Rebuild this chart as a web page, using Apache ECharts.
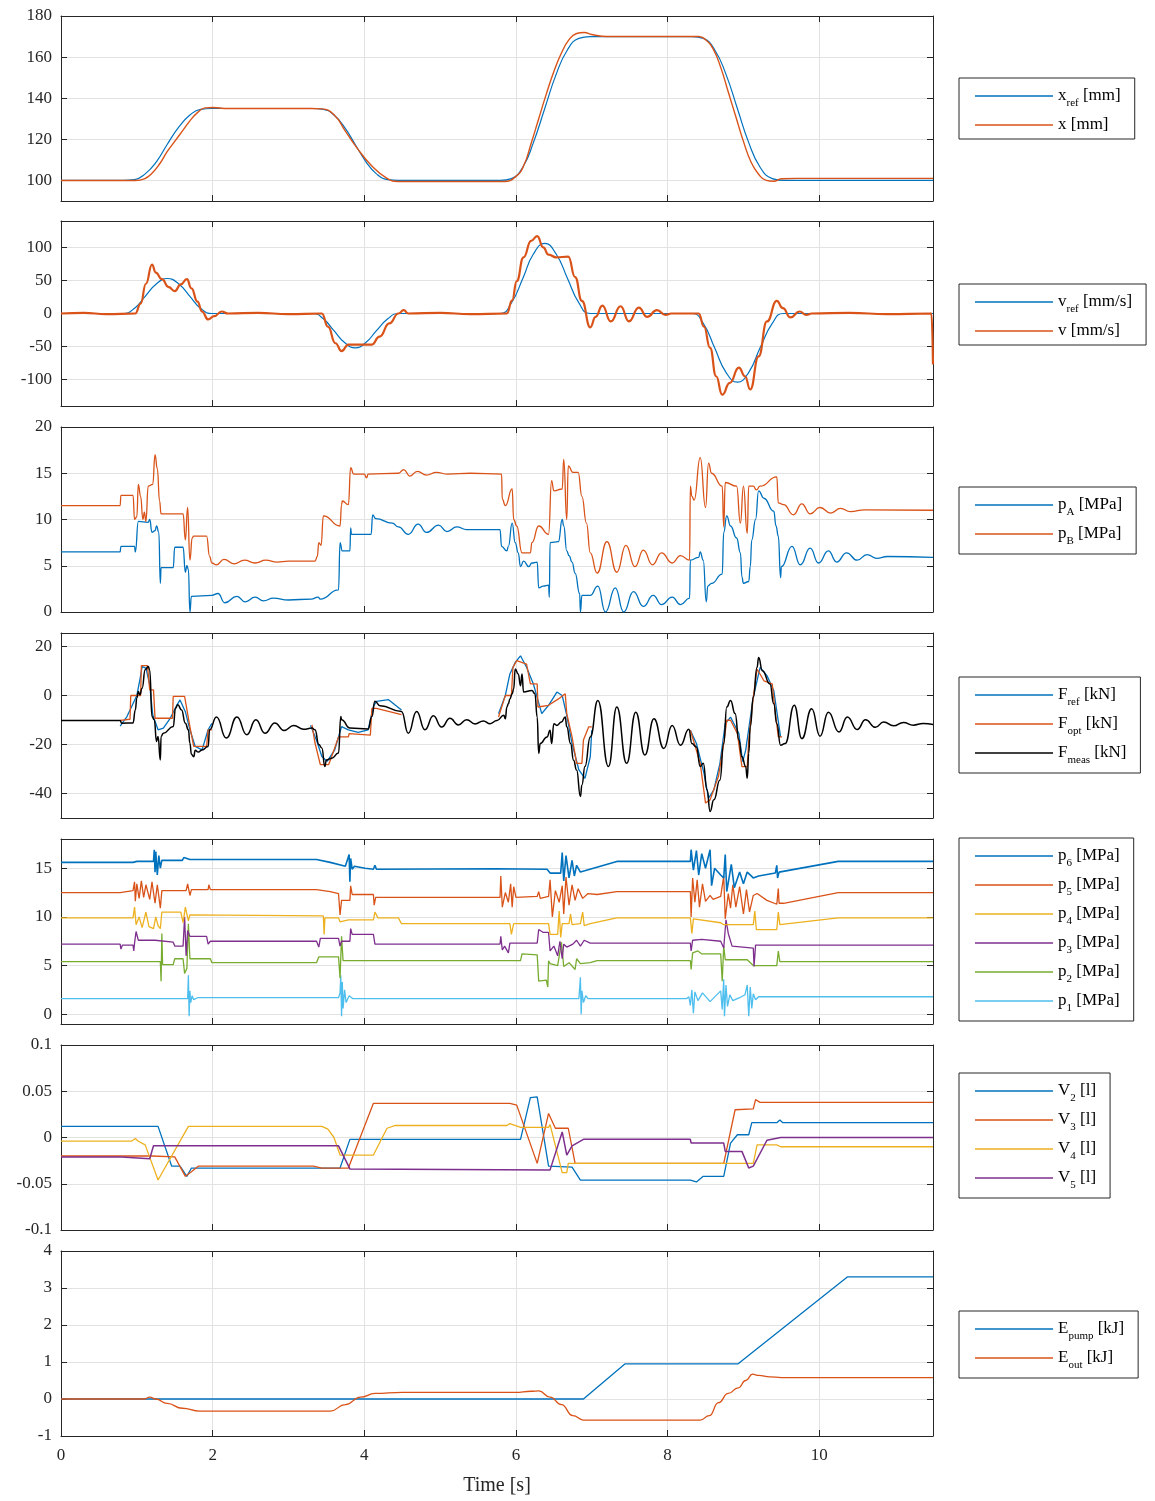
<!DOCTYPE html>
<html>
<head>
<meta charset="utf-8">
<script src="https://cdn.jsdelivr.net/npm/echarts@6/dist/echarts.min.js"></script>
<style>
html,body{margin:0;padding:0;background:#fff}
#chart{width:1155px;height:1501px}
</style>
</head>
<body>
<div id="chart"></div>
<script>
// ---------- data: [time s, value] ----------
const TIME_TICKS = [0, 2, 4, 6, 8, 10];

// position [mm]
const xRef = [[0,100],[0.82,100],[0.97,100.4],[1.11,103.2],[1.26,109.2],[1.40,117.5],[1.55,125.8],[1.70,131.8],[1.84,134.6],[1.99,135],[3.32,135],[3.46,134.6],[3.60,131.8],[3.74,125.8],[3.88,117.5],[4.02,109.2],[4.16,103.2],[4.31,100.4],[4.45,100],[5.79,100],[5.94,100.9],[6.09,106.4],[6.23,118.4],[6.38,135],[6.53,151.6],[6.68,163.6],[6.83,169.1],[6.98,170],[8.32,170],[8.47,169.1],[8.62,163.6],[8.77,151.6],[8.92,135],[9.07,118.4],[9.22,106.4],[9.38,100.9],[9.53,100],[11.5,100]];
const xMeas = [[0,100],[0.98,100],[1.1,100.8],[1.2,103.5],[1.3,108],[1.4,114],[1.5,119],[1.6,124],[1.7,129],[1.8,133],[1.9,135.3],[2.0,135.5],[2.2,135],[3.3,135],[3.44,134.8],[3.6,132],[3.75,124],[3.9,116],[4.1,107],[4.3,101],[4.45,99.5],[5.85,99.5],[6.0,102],[6.1,107],[6.2,118],[6.3,130],[6.4,142],[6.5,153],[6.6,162],[6.7,168.5],[6.8,171.5],[6.9,172],[7.0,171],[7.2,170],[8.41,170],[8.5,168.5],[8.6,164],[8.7,155],[8.8,143],[8.9,131],[9.0,119],[9.1,109],[9.2,103],[9.3,100],[9.4,99.6],[9.5,100.8],[9.7,101],[11.5,101]];

// velocity [mm/s]
const vRef = [[0,0],[0.82,0],[0.97,8],[1.11,26],[1.26,45],[1.40,53],[1.55,45],[1.70,26],[1.84,8],[1.99,0],[3.32,0],[3.46,-8],[3.60,-26],[3.74,-44],[3.88,-52],[4.02,-44],[4.16,-26],[4.31,-8],[4.45,0],[5.79,0],[5.94,16],[6.09,53],[6.23,90],[6.38,106],[6.53,90],[6.68,53],[6.83,16],[6.98,0],[8.32,0],[8.47,-15],[8.62,-52],[8.77,-89],[8.92,-104],[9.07,-89],[9.22,-52],[9.38,-15],[9.53,0],[11.5,0]];
const vMeas = [[0,0],[0.3,1],[0.6,-1],[0.98,0],[1.05,15],[1.12,45],[1.20,74],[1.25,62],[1.33,52],[1.42,40],[1.50,34],[1.58,44],[1.66,52],[1.72,38],[1.80,18],[1.86,3],[1.94,-9],[2.02,-4],[2.12,3],[2.2,0],[2.6,1],[3.0,-1],[3.44,0],[3.52,-20],[3.62,-45],[3.70,-57],[3.79,-47],[4.10,-47],[4.20,-35],[4.33,-15],[4.45,0],[4.52,5],[4.58,0],[5.0,1],[5.4,-1],[5.88,0],[5.95,20],[6.01,49],[6.10,85],[6.20,110],[6.28,117],[6.36,100],[6.43,89],[6.53,85],[6.69,86],[6.78,55],[6.87,19],[6.98,-21],[7.05,-5],[7.14,12],[7.25,-12],[7.38,11],[7.49,-12],[7.62,9],[7.73,-5],[7.86,5],[7.97,-2],[8.05,0],[8.41,0],[8.48,-20],[8.56,-52],[8.64,-95],[8.72,-123],[8.82,-105],[8.94,-82],[9.02,-95],[9.09,-115],[9.2,-65],[9.31,-12],[9.44,19],[9.52,8],[9.62,-6],[9.74,3],[9.83,-2],[9.9,0],[10.4,1],[10.9,-1],[11.48,0],[11.5,-77]];

// chamber pressures [MPa]
const pA = [[0,6.5],[0.78,6.5],[0.79,7.1],[0.97,7.1],[0.98,6.5],[1.02,9.8],[1.15,9.7],[1.17,10.0],[1.20,8.6],[1.24,8.8],[1.26,9.3],[1.29,8.6],[1.31,3.1],[1.32,4.8],[1.48,4.8],[1.50,7.0],[1.61,7.0],[1.64,4.3],[1.66,5.0],[1.68,4.6],[1.70,0.0],[1.72,1.7],[1.99,1.8],[2.07,2.0],[2.16,1.0],[2.32,1.7],[2.43,1.1],[2.56,1.6],[2.67,1.2],[2.8,1.5],[3.0,1.3],[3.3,1.4],[3.39,1.6],[3.42,1.4],[3.66,2.4],[3.68,7.5],[3.71,6.6],[3.81,6.6],[3.82,9.1],[3.83,8.4],[4.09,8.4],[4.11,10.5],[4.15,10.1],[4.37,9.6],[4.45,9.2],[4.58,8.4],[4.71,9.5],[4.82,8.6],[4.98,9.4],[5.09,8.7],[5.22,9.2],[5.35,8.9],[5.79,8.9],[5.81,7.1],[5.88,6.6],[5.90,7.1],[5.95,9.6],[5.99,7.5],[6.03,6.4],[6.06,4.9],[6.10,5.5],[6.17,4.9],[6.21,5.3],[6.28,5.4],[6.30,2.6],[6.36,2.8],[6.43,2.9],[6.44,1.6],[6.45,7.5],[6.56,7.6],[6.61,10.0],[6.63,9.3],[6.67,6.6],[6.70,6.1],[6.74,5.4],[6.78,4.2],[6.84,2.0],[6.85,0.0],[6.87,1.8],[6.98,1.8],[7.08,2.8],[7.18,0.0],[7.31,2.6],[7.42,0.0],[7.55,2.2],[7.68,0.6],[7.81,1.8],[7.92,0.8],[8.06,1.6],[8.17,0.8],[8.29,1.5],[8.30,5.6],[8.41,5.9],[8.43,6.5],[8.47,5.6],[8.51,1.1],[8.53,2.8],[8.58,3.1],[8.72,4.1],[8.74,8.6],[8.78,10.4],[8.83,9.3],[8.91,8.0],[8.96,6.4],[8.98,3.8],[9.00,3.1],[9.07,3.3],[9.09,4.9],[9.11,7.8],[9.16,10.0],[9.20,13.1],[9.27,12.3],[9.40,10.9],[9.43,9.3],[9.46,8.2],[9.49,3.7],[9.50,4.9],[9.64,7.1],[9.75,5.1],[9.88,6.9],[9.99,5.3],[10.12,6.6],[10.23,5.4],[10.36,6.4],[10.50,5.6],[10.63,6.2],[10.76,5.8],[10.9,6.0],[11.5,5.9]];
const pB = [[0,11.5],[0.78,11.5],[0.79,12.6],[0.95,12.6],[0.97,10.0],[1.00,10.3],[1.02,13.8],[1.05,12.5],[1.08,10.0],[1.10,10.8],[1.12,9.8],[1.15,13.6],[1.21,13.8],[1.24,17.0],[1.27,15.5],[1.30,12.0],[1.32,10.6],[1.61,10.6],[1.64,7.8],[1.67,11.3],[1.70,5.6],[1.73,8.0],[1.75,8.2],[1.92,8.2],[1.96,6.0],[1.99,5.3],[2.05,5.1],[2.15,5.7],[2.28,5.2],[2.42,5.6],[2.56,5.3],[2.70,5.6],[2.85,5.4],[3.0,5.5],[3.35,5.5],[3.38,6.0],[3.40,7.5],[3.43,7.2],[3.46,10.4],[3.68,9.3],[3.70,11.6],[3.71,12.0],[3.79,11.6],[3.82,15.6],[3.86,14.9],[4.0,14.9],[4.03,14.5],[4.05,14.9],[4.45,15.0],[4.52,15.4],[4.60,14.7],[4.70,15.2],[4.82,14.8],[4.95,15.1],[5.1,14.9],[5.4,15.0],[5.81,14.9],[5.82,12.2],[5.86,11.5],[5.95,13.3],[5.97,10.0],[6.01,9.3],[6.08,6.4],[6.19,6.4],[6.21,7.5],[6.30,9.3],[6.43,8.4],[6.47,14.2],[6.50,13.1],[6.61,13.3],[6.63,16.5],[6.67,10.0],[6.69,15.8],[6.75,15.1],[6.82,15.1],[6.87,12.5],[6.93,9.6],[6.98,6.4],[7.07,4.2],[7.20,7.6],[7.33,4.3],[7.45,7.2],[7.57,4.9],[7.68,6.7],[7.80,5.1],[7.92,6.4],[8.06,5.3],[8.17,6.1],[8.29,5.6],[8.30,13.6],[8.32,12.5],[8.35,12.1],[8.43,16.7],[8.50,11.3],[8.54,16.1],[8.58,15.0],[8.72,13.6],[8.74,9.2],[8.76,14.0],[8.91,13.6],[8.96,9.6],[9.00,13.6],[9.05,8.5],[9.07,13.6],[9.13,13.6],[9.17,13.2],[9.22,13.6],[9.44,14.6],[9.46,11.8],[9.53,11.6],[9.66,10.5],[9.77,11.7],[9.88,10.6],[10.01,11.3],[10.15,10.7],[10.28,11.2],[10.41,10.85],[10.6,11.05],[11.5,11.0]];

// force [kN]; '-' separates active intervals
const fRef = [[0.78,-12.5],[0.87,-8.6],[1.00,0],[1.04,6.4],[1.07,11.8],[1.12,11.2],[1.17,4.4],[1.21,-7.9],[1.28,-14.0],[1.35,-13.3],[1.44,-9.3],[1.53,-3.8],[1.57,-1.8],[1.64,-6.6],[1.70,-14.0],[1.77,-20.8],[1.86,-22.2],[1.94,-14.0],[1.99,-11.4],[2.0,'-'],
  [3.29,-12.2],[3.37,-18.3],[3.44,-24.9],[3.51,-26.9],[3.61,-22.2],[3.70,-12.7],[3.79,-14.0],[3.92,-15.1],[4.05,-14.0],[4.12,-4.5],[4.16,-2.4],[4.32,-1.7],[4.49,-5.9],[4.5,'-'],
  [5.77,-7.4],[5.86,0],[5.92,8.8],[5.99,13.5],[6.06,16.2],[6.14,11.5],[6.23,4.7],[6.34,-7.4],[6.43,-4.0],[6.54,1.4],[6.61,0],[6.67,-8.1],[6.74,-19.6],[6.83,-30.4],[6.91,-33.8],[6.98,-25.0],[7.00,-14.2],[7.01,'-'],
  [8.30,-14.2],[8.38,-19.6],[8.48,-31.8],[8.54,-41.9],[8.61,-38.5],[8.69,-27.7],[8.76,-11.5],[8.83,-8.8],[8.94,-15.5],[8.99,-27.0],[9.03,-22.3],[9.13,-0.7],[9.22,11.5],[9.31,8.1],[9.40,2.0],[9.49,-16.9]];
const fOpt = [[0.78,-10.2],[0.91,-9.7],[0.92,0],[1.05,0],[1.06,12.2],[1.14,12.2],[1.17,2.3],[1.22,2.3],[1.24,-9.3],[1.47,-9.3],[1.48,-0.4],[1.63,-0.4],[1.70,-12.7],[1.75,-20.8],[1.92,-20.8],[1.94,-14.0],[1.99,-14.0],[2.0,'-'],
  [3.31,-12.0],[3.35,-19.4],[3.42,-28.2],[3.53,-28.2],[3.57,-24.9],[3.66,-16.9],[3.79,-16.9],[3.80,-15.6],[4.08,-16.2],[4.10,-5.3],[4.16,-5.3],[4.49,-7.8],[4.5,'-'],
  [5.77,-8.8],[5.84,-2.0],[5.86,0],[5.94,0],[5.96,11.5],[6.01,14.2],[6.14,12.8],[6.19,4.7],[6.28,4.7],[6.29,-4.7],[6.43,-4.0],[6.56,-1.4],[6.65,0.7],[6.67,-7.4],[6.74,-16.9],[6.80,-27.7],[6.87,-27.7],[6.89,-18.2],[6.96,-12.8],[7.00,-12.8],[7.01,'-'],
  [8.30,-14.2],[8.36,-20.3],[8.43,-27.7],[8.50,-43.9],[8.56,-42.6],[8.67,-33.1],[8.74,-19.6],[8.78,-10.1],[8.83,-10.1],[8.92,-15.5],[8.98,-29.0],[9.05,-29.0],[9.07,-18.2],[9.13,-0.7],[9.18,10.8],[9.27,6.0],[9.38,4.7],[9.42,-6.8],[9.46,-16.9],[9.51,-16.9]];
const fMeas = [[0,-10.2],[0.78,-10.2],[0.80,-11.3],[0.95,-11.2],[0.98,-5.9],[1.00,-1.0],[1.02,1.6],[1.04,0.3],[1.07,3.0],[1.11,10.5],[1.15,11.8],[1.17,10.4],[1.20,-8.6],[1.23,-9.9],[1.26,-18.8],[1.28,-16.7],[1.31,-26.3],[1.32,-16.7],[1.35,-15.4],[1.48,-12.7],[1.51,-5.2],[1.54,-3.8],[1.59,-5.9],[1.64,-11.3],[1.68,-14.0],[1.70,-19.5],[1.72,-24.0],[1.75,-25.0],[1.77,-22.4],[1.81,-23.1],[1.86,-22.2],[1.94,-20.8],[1.96,-14.0],[2.05,-8.8],[2.18,-17.4],[2.32,-8.8],[2.45,-16.0],[2.57,-9.9],[2.69,-15.4],[2.82,-11.2],[2.94,-14.3],[3.07,-12.3],[3.2,-13.8],[3.31,-13.3],[3.35,-14.0],[3.40,-20.0],[3.44,-21.4],[3.48,-29.0],[3.50,-26.3],[3.57,-25.6],[3.66,-23.5],[3.69,-8.6],[3.70,-9.9],[3.81,-13.3],[4.05,-13.7],[4.10,-8.6],[4.14,-2.4],[4.21,-4.2],[4.49,-6.5],[4.58,-15.4],[4.69,-6.5],[4.80,-14.0],[4.91,-8.3],[5.02,-12.9],[5.13,-9.3],[5.24,-12.0],[5.35,-9.9],[5.46,-11.6],[5.57,-10.4],[5.66,-11.5],[5.75,-10.2],[5.84,-8.1],[5.86,-9.5],[5.88,-4.7],[5.90,-3.4],[5.92,-1.4],[5.95,0.7],[5.97,2.7],[5.99,10.8],[6.03,8.8],[6.06,4.0],[6.08,8.8],[6.10,1.4],[6.21,2.0],[6.25,0.7],[6.28,-8.8],[6.30,-23.6],[6.32,-19.6],[6.41,-16.9],[6.45,-14.2],[6.47,-19.6],[6.50,-11.5],[6.54,-12.2],[6.60,-10.8],[6.65,-8.8],[6.67,-12.8],[6.72,-19.6],[6.76,-26.4],[6.80,-30.4],[6.85,-41.2],[6.87,-36.5],[6.91,-29.0],[6.98,-16.9],[7.08,-2.0],[7.22,-29.0],[7.33,-4.7],[7.46,-27.7],[7.58,-6.8],[7.70,-24.3],[7.82,-9.5],[7.95,-21.6],[8.06,-12.2],[8.17,-20.3],[8.28,-13.8],[8.32,-19.6],[8.38,-21.0],[8.43,-29.0],[8.47,-27.7],[8.52,-38.5],[8.56,-47.3],[8.61,-42.6],[8.69,-34.5],[8.74,-19.6],[8.78,-4.7],[8.83,-2.0],[8.89,-7.4],[8.94,-18.2],[8.98,-25.0],[9.03,-29.0],[9.05,-33.8],[9.07,-23.6],[9.09,-12.8],[9.13,-0.7],[9.18,11.5],[9.20,15.5],[9.25,10.1],[9.35,4.7],[9.40,-3.4],[9.44,-11.5],[9.49,-20.3],[9.55,-19.6],[9.67,-4.0],[9.77,-17.6],[9.90,-5.4],[10.01,-16.6],[10.12,-6.8],[10.26,-14.9],[10.37,-8.8],[10.50,-13.9],[10.61,-9.9],[10.74,-13.0],[10.85,-10.8],[10.98,-12.4],[11.11,-11.0],[11.24,-12.1],[11.37,-11.4],[11.5,-11.8]];

// line pressures [MPa]
const p6 = [[0,15.6],[0.95,15.6],[1.0,15.7],[1.22,15.7],[1.23,16.9],[1.24,14.6],[1.25,16.7],[1.27,14.3],[1.29,16.3],[1.31,15.0],[1.33,15.8],[1.60,15.8],[1.62,16.1],[1.70,15.9],[3.37,15.9],[3.55,15.6],[3.75,15.2],[3.80,16.4],[3.81,13.6],[3.82,16.0],[3.84,14.9],[3.87,15.2],[4.01,15.0],[4.12,14.9],[4.14,15.3],[4.16,14.9],[5.73,14.95],[6.41,14.9],[6.45,14.5],[6.59,14.5],[6.61,16.6],[6.63,13.7],[6.66,16.3],[6.70,14.0],[6.74,15.8],[6.77,14.2],[6.80,15.3],[6.85,14.6],[7.33,15.7],[8.30,15.7],[8.31,16.9],[8.34,14.8],[8.38,16.8],[8.41,14.3],[8.45,16.5],[8.50,15.0],[8.56,16.9],[8.58,13.2],[8.62,15.0],[8.70,14.3],[8.74,14.0],[8.76,16.4],[8.78,12.6],[8.84,15.4],[8.88,13.0],[8.95,14.6],[9.00,13.4],[9.05,14.6],[9.13,14.0],[9.20,14.2],[9.42,14.5],[9.44,15.3],[9.45,14.0],[9.47,14.6],[10.25,15.7],[11.5,15.7]];
const p5 = [[0,12.5],[0.78,12.5],[0.79,12.7],[0.95,12.7],[0.97,13.6],[0.98,11.6],[1.00,13.4],[1.03,11.9],[1.06,13.7],[1.09,12.0],[1.12,13.3],[1.17,11.8],[1.20,13.6],[1.24,11.4],[1.27,13.3],[1.31,10.9],[1.33,12.7],[1.65,12.7],[1.67,13.4],[1.70,12.2],[1.72,12.8],[1.94,12.8],[1.95,13.3],[1.97,12.8],[3.37,12.8],[3.55,12.6],[3.66,12.4],[3.68,10.2],[3.70,11.7],[3.81,11.7],[3.82,13.2],[3.84,12.3],[4.12,12.3],[4.13,11.2],[4.15,12.0],[5.79,12.0],[5.80,14.2],[5.82,11.0],[5.86,12.5],[5.90,11.5],[5.93,13.4],[5.95,11.0],[5.97,13.1],[6.00,12.0],[6.28,12.1],[6.30,12.6],[6.32,11.9],[6.43,12.1],[6.45,13.8],[6.48,10.0],[6.52,12.7],[6.57,11.5],[6.61,13.2],[6.63,10.3],[6.66,14.1],[6.70,11.2],[6.74,13.3],[6.78,11.7],[6.82,12.9],[6.88,11.9],[6.95,12.4],[7.07,12.3],[7.33,12.6],[8.30,12.6],[8.31,10.0],[8.33,14.0],[8.36,11.5],[8.39,13.8],[8.42,11.0],[8.46,13.4],[8.50,11.6],[8.56,12.2],[8.60,11.8],[8.70,12.1],[8.74,14.2],[8.76,9.8],[8.80,12.4],[8.83,10.9],[8.86,13.3],[8.90,11.0],[8.95,13.1],[9.00,10.3],[9.04,12.8],[9.08,10.5],[9.13,12.2],[9.18,12.4],[9.31,11.7],[9.44,11.3],[9.46,12.9],[9.47,11.4],[9.53,11.4],[10.25,12.5],[11.5,12.5]];
const p4 = [[0,9.9],[0.95,9.9],[0.97,11.0],[0.99,9.2],[1.03,10.0],[1.07,8.9],[1.12,10.5],[1.16,9.0],[1.22,8.8],[1.25,10.0],[1.28,9.1],[1.31,8.8],[1.33,10.5],[1.58,10.5],[1.61,9.4],[1.64,11.0],[1.68,9.6],[1.70,10.2],[1.72,10.1],[3.46,10.1],[3.47,8.2],[3.48,9.9],[3.66,9.9],[3.68,9.5],[3.79,9.7],[4.12,9.7],[4.14,10.5],[4.18,9.9],[4.45,9.9],[4.49,9.3],[5.92,9.3],[5.94,8.2],[5.97,9.3],[6.43,9.3],[6.45,8.2],[6.55,8.2],[6.57,10.6],[6.59,7.9],[6.61,9.3],[6.70,9.3],[6.72,10.3],[6.74,9.2],[6.85,9.3],[6.88,10.5],[6.90,9.1],[6.98,9.3],[7.33,9.9],[8.30,9.9],[8.32,8.3],[8.34,9.8],[8.70,9.4],[8.74,9.2],[9.13,9.2],[9.15,10.6],[9.17,8.7],[9.44,8.7],[9.46,10.5],[9.48,9.2],[10.25,9.9],[11.5,9.9]];
const p3 = [[0,7.2],[0.78,7.2],[0.79,6.7],[0.81,7.1],[0.95,7.1],[0.96,6.5],[0.97,7.3],[0.99,8.5],[1.02,7.6],[1.24,7.6],[1.26,7.4],[1.48,7.4],[1.50,7.0],[1.61,7.0],[1.63,10.0],[1.65,6.0],[1.67,8.6],[1.70,8.0],[1.92,8.0],[1.94,7.2],[1.97,7.5],[3.37,7.5],[3.40,6.9],[3.42,7.8],[3.66,7.8],[3.68,7.0],[3.70,7.5],[3.81,7.5],[3.82,8.8],[3.84,8.2],[4.12,8.2],[4.14,7.2],[5.79,7.2],[5.80,8.0],[5.82,6.6],[5.85,7.0],[5.90,6.3],[5.92,7.3],[6.28,7.3],[6.30,8.7],[6.36,8.4],[6.43,8.4],[6.45,6.5],[6.50,7.0],[6.55,6.0],[6.58,7.5],[6.61,5.7],[6.63,7.2],[6.67,6.9],[6.75,7.2],[6.80,7.6],[6.85,7.0],[6.90,7.6],[6.98,7.3],[8.30,7.3],[8.31,6.5],[8.33,7.6],[8.45,7.7],[8.70,7.5],[8.74,6.8],[8.76,6.8],[8.77,9.7],[8.80,8.3],[8.85,7.0],[9.13,6.8],[9.14,4.9],[9.16,7.1],[11.5,7.1]];
const p2 = [[0,5.4],[1.31,5.4],[1.32,3.4],[1.33,8.3],[1.34,5.1],[1.48,5.1],[1.50,5.7],[1.61,5.7],[1.63,4.2],[1.66,4.7],[1.68,9.3],[1.70,5.7],[1.97,5.7],[1.99,5.3],[3.37,5.3],[3.40,5.9],[3.66,5.9],[3.68,3.7],[3.70,8.0],[3.72,5.5],[6.06,5.5],[6.08,6.2],[6.28,6.1],[6.30,3.4],[6.40,3.5],[6.42,2.8],[6.43,5.5],[6.45,5.2],[6.55,5.0],[6.60,7.4],[6.63,4.9],[6.70,5.3],[6.78,4.6],[6.80,5.7],[6.85,5.2],[6.98,5.3],[7.07,5.5],[8.30,5.5],[8.31,4.6],[8.33,6.3],[8.40,6.5],[8.45,6.2],[8.70,6.2],[8.72,3.4],[8.74,7.0],[8.76,5.6],[9.05,5.6],[9.13,5.0],[9.15,4.8],[9.44,5.0],[9.46,6.5],[9.48,5.4],[11.5,5.4]];
const p1 = [[0,1.6],[1.67,1.6],[1.68,4.0],[1.69,-0.2],[1.70,2.4],[1.71,1.2],[1.73,1.9],[1.75,1.5],[1.80,1.7],[3.66,1.7],[3.68,2.2],[3.69,4.0],[3.70,-0.2],[3.71,3.3],[3.72,0.6],[3.74,2.5],[3.76,1.2],[3.80,1.9],[3.85,1.6],[6.83,1.6],[6.85,3.8],[6.86,0.0],[6.87,2.4],[6.89,1.2],[6.92,1.9],[6.95,1.6],[8.25,1.6],[8.28,1.8],[8.30,0.9],[8.32,2.5],[8.34,0.1],[8.36,2.3],[8.40,1.4],[8.46,2.2],[8.56,1.3],[8.70,2.4],[8.72,0.5],[8.74,3.6],[8.75,-0.2],[8.77,3.0],[8.79,0.8],[8.82,2.0],[8.86,1.4],[8.95,1.7],[9.02,2.0],[9.05,3.0],[9.07,-0.2],[9.09,2.8],[9.11,0.6],[9.13,2.1],[9.16,1.5],[9.20,1.8],[11.5,1.8]];

// chamber volumes [l]
const V2 = [[0,0.012],[1.28,0.012],[1.46,-0.031],[1.57,-0.031],[1.66,-0.042],[1.72,-0.033],[1.86,-0.033],[3.68,-0.033],[3.81,-0.002],[6.06,-0.002],[6.19,0.043],[6.28,0.044],[6.43,-0.031],[6.74,-0.032],[6.85,-0.046],[8.30,-0.046],[8.38,-0.048],[8.47,-0.042],[8.74,-0.042],[8.83,-0.006],[8.92,0.003],[9.07,0.003],[9.11,0.016],[9.44,0.016],[9.48,0.019],[9.52,0.016],[11.5,0.016]];
const V3 = [[0,-0.020],[1.20,-0.020],[1.50,-0.021],[1.64,-0.042],[1.72,-0.037],[1.81,-0.031],[3.33,-0.031],[3.44,-0.033],[3.79,-0.033],[4.12,0.037],[5.92,0.037],[6.01,0.035],[6.28,-0.028],[6.43,0.026],[6.52,0.010],[6.69,0.010],[6.78,-0.028],[8.74,-0.028],[8.89,0.030],[9.13,0.031],[9.16,0.041],[9.22,0.038],[11.5,0.038]];
const V4 = [[0,-0.004],[0.93,-0.004],[0.98,-0.001],[1.02,-0.004],[1.11,-0.008],[1.28,-0.046],[1.68,0.012],[3.44,0.012],[3.52,0.009],[3.60,0.0],[3.68,-0.019],[4.12,-0.019],[4.30,0.010],[4.41,0.013],[5.88,0.013],[5.92,0.015],[6.06,0.011],[6.43,0.011],[6.45,0.014],[6.61,-0.038],[6.67,-0.038],[6.69,-0.028],[9.13,-0.028],[9.18,-0.008],[9.44,-0.008],[9.49,-0.010],[11.5,-0.010]];
const V5 = [[0,-0.021],[0.80,-0.021],[0.82,-0.023],[1.17,-0.023],[1.22,-0.009],[3.66,-0.009],[3.81,-0.034],[6.45,-0.035],[6.61,0.006],[6.67,-0.019],[6.74,-0.009],[6.89,-0.002],[8.30,-0.002],[8.31,-0.006],[8.74,-0.006],[8.76,-0.015],[8.98,-0.015],[9.07,-0.033],[9.13,-0.031],[9.31,-0.003],[9.49,0.000],[11.5,0.000]];

// energy [kJ]
const ePump = [[0,0],[6.89,0],[7.44,0.95],[8.93,0.95],[10.37,3.3],[11.5,3.3]];
const eOut = [[0,0],[1.10,0],[1.17,0.05],[1.25,0.0],[1.40,-0.12],[1.60,-0.25],[1.83,-0.33],[3.55,-0.33],[3.75,-0.15],[3.95,0.05],[4.14,0.15],[4.5,0.18],[5.99,0.18],[6.2,0.21],[6.3,0.22],[6.45,0.05],[6.6,-0.15],[6.75,-0.45],[6.89,-0.57],[8.43,-0.57],[8.55,-0.45],[8.67,-0.1],[8.80,0.15],[8.93,0.3],[9.03,0.5],[9.12,0.67],[9.2,0.64],[9.35,0.6],[9.5,0.58],[11.5,0.58]];

// y-axis ranges and tick labels, one entry per panel
const Y_RANGES = [[90,180],[-140,140],[0,20],[-50,25.5],[-1,18],[-0.1,0.1],[-1,4]];
const Y_TICKS = [[100,120,140,160,180],[-100,-50,0,50,100],[0,5,10,15,20],[-40,-20,0,20],[0,5,10,15],[-0.1,-0.05,0,0.05,0.1],[-1,0,1,2,3,4]];

// ---------- styling ----------
const FONT = '"Liberation Serif","Times New Roman",serif';
const AXIS_COLOR = '#262626';
const GRID_COLOR = '#e2e2e2';
const C = {blue:'#0072BD', orange:'#D95319', yellow:'#EDB120', purple:'#7E2F8E', green:'#77AC30', cyan:'#4DBEEE', black:'#000000'};
const PANEL_TOPS = [16, 221, 427, 633, 839, 1045, 1251];
const PANEL_H = 185;
const LEGEND_TOPS = [78, 284, 487, 677, 838, 1073, 1311];
const LEGEND_PAD_BOTTOM = [1, 1, 7, 7, 7, 7, 7];

// smoothing modes: 'c' = chord smoothing (reference profiles), 'm' = monotone in x (measured signals), '' = straight
const PANELS = [
  [['x_ref [mm]', xRef, C.blue, 1.2, 'c'], ['x [mm]', xMeas, C.orange, 1.4, 'c']],
  [['v_ref [mm/s]', vRef, C.blue, 1.2, 'c'], ['v [mm/s]', vMeas, C.orange, 2.2, 'm']],
  [['p_A [MPa]', pA, C.blue, 1.3, 'm'], ['p_B [MPa]', pB, C.orange, 1.3, 'm']],
  [['F_ref [kN]', fRef, C.blue, 1.3, ''], ['F_opt [kN]', fOpt, C.orange, 1.3, ''], ['F_meas [kN]', fMeas, C.black, 1.5, 'm']],
  [['p_1 [MPa]', p1, C.cyan, 1.3, ''], ['p_2 [MPa]', p2, C.green, 1.3, ''], ['p_3 [MPa]', p3, C.purple, 1.3, ''], ['p_4 [MPa]', p4, C.yellow, 1.3, ''], ['p_5 [MPa]', p5, C.orange, 1.3, ''], ['p_6 [MPa]', p6, C.blue, 1.6, '']],
  [['V_2 [l]', V2, C.blue, 1.3, ''], ['V_3 [l]', V3, C.orange, 1.3, ''], ['V_4 [l]', V4, C.yellow, 1.3, ''], ['V_5 [l]', V5, C.purple, 1.5, '']],
  [['E_pump [kJ]', ePump, C.blue, 1.3, ''], ['E_out [kJ]', eOut, C.orange, 1.3, 'm']]
];
const LEGEND_ORDER = [
  ['x_ref [mm]', 'x [mm]'],
  ['v_ref [mm/s]', 'v [mm/s]'],
  ['p_A [MPa]', 'p_B [MPa]'],
  ['F_ref [kN]', 'F_opt [kN]', 'F_meas [kN]'],
  ['p_6 [MPa]', 'p_5 [MPa]', 'p_4 [MPa]', 'p_3 [MPa]', 'p_2 [MPa]', 'p_1 [MPa]'],
  ['V_2 [l]', 'V_3 [l]', 'V_4 [l]', 'V_5 [l]'],
  ['E_pump [kJ]', 'E_out [kJ]']
];

const tickLabel = v => String(v);
const grids = [], xAxes = [], yAxes = [], series = [];
const axisLine = {show: true, onZero: false, lineStyle: {color: AXIS_COLOR, width: 1}};

PANELS.forEach((items, i) => {
  const last = i === PANELS.length - 1;
  grids.push({left: 61, width: 872, top: PANEL_TOPS[i], height: PANEL_H});
  xAxes.push({
    type: 'value', gridIndex: i, position: 'bottom', min: 0, max: 11.5,
    axisLine,
    axisTick: {show: true, inside: true, length: 6, customValues: TIME_TICKS, lineStyle: {color: AXIS_COLOR}},
    axisLabel: {show: last, customValues: TIME_TICKS, margin: 11, fontFamily: FONT, fontSize: 17, color: AXIS_COLOR, formatter: tickLabel},
    splitLine: {show: true, lineStyle: {color: GRID_COLOR, width: 1}},
    name: last ? 'Time [s]' : '', nameLocation: 'middle', nameGap: 40,
    nameTextStyle: {fontFamily: FONT, fontSize: 20, color: AXIS_COLOR}
  });
  xAxes.push({
    type: 'value', gridIndex: i, position: 'top', min: 0, max: 11.5,
    axisLine,
    axisTick: {show: true, inside: true, length: 6, customValues: TIME_TICKS, lineStyle: {color: AXIS_COLOR}},
    axisLabel: {show: false}, splitLine: {show: false}
  });
  const [ymin, ymax] = Y_RANGES[i];
  yAxes.push({
    type: 'value', gridIndex: i, position: 'left', min: ymin, max: ymax,
    axisLine,
    axisTick: {show: true, inside: true, length: 6, customValues: Y_TICKS[i], lineStyle: {color: AXIS_COLOR}},
    axisLabel: {show: true, customValues: Y_TICKS[i], margin: 9, fontFamily: FONT, fontSize: 17, color: AXIS_COLOR, formatter: tickLabel},
    splitLine: {show: true, lineStyle: {color: GRID_COLOR, width: 1}}
  });
  yAxes.push({
    type: 'value', gridIndex: i, position: 'right', min: ymin, max: ymax,
    axisLine,
    axisTick: {show: true, inside: true, length: 6, customValues: Y_TICKS[i], lineStyle: {color: AXIS_COLOR}},
    axisLabel: {show: false}, splitLine: {show: false}
  });
  items.forEach(([name, data, color, width, mode]) => {
    const s = {
      type: 'line', name, data, xAxisIndex: i * 2, yAxisIndex: i * 2,
      showSymbol: false, symbol: 'none', connectNulls: false,
      color, lineStyle: {color, width}, emphasis: {disabled: true}
    };
    if (mode === 'c') { s.smooth = 0.5; }
    else if (mode === 'm') { s.smooth = 0.5; s.smoothMonotone = 'x'; }
    else { s.smooth = false; }
    series.push(s);
  });
});

// legend text with subscripts: "x_ref [mm]" -> x, subscript "ref", " [mm]";
// entries without a subscript get an empty one so every row has the same height
const legendText = name => {
  const m = name.match(/^(\w)_(\w+) (.*)$/);
  return m ? `{m|${m[1]}}{s|${m[2]}}{m| ${m[3]}}` : `{m|${name}}{s|\u200b}`;
};
const RICH = {
  m: {fontFamily: FONT, fontSize: 17, lineHeight: 28, color: '#000'},
  s: {fontFamily: FONT, fontSize: 11, lineHeight: 12, verticalAlign: 'top', padding: [16, 0, 0, 0], color: '#000'}
};
const legends = LEGEND_ORDER.map((names, i) => ({
  left: 959, top: LEGEND_TOPS[i], orient: 'vertical', data: names,
  icon: 'rect', itemWidth: 78, itemHeight: 1.6, itemGap: 2,
  padding: [4, 14, LEGEND_PAD_BOTTOM[i], 16], borderColor: '#262626', borderWidth: 1, borderRadius: 0,
  backgroundColor: '#ffffff', selectedMode: false,
  formatter: legendText,
  textStyle: {fontFamily: FONT, fontSize: 17, color: '#000', rich: RICH}
}));

const chart = echarts.init(document.getElementById('chart'), null, {renderer: 'canvas'});
chart.setOption({
  backgroundColor: '#ffffff',
  animation: false,
  grid: grids,
  xAxis: xAxes,
  yAxis: yAxes,
  legend: legends,
  tooltip: {show: false},
  series
});
</script>
</body>
</html>
